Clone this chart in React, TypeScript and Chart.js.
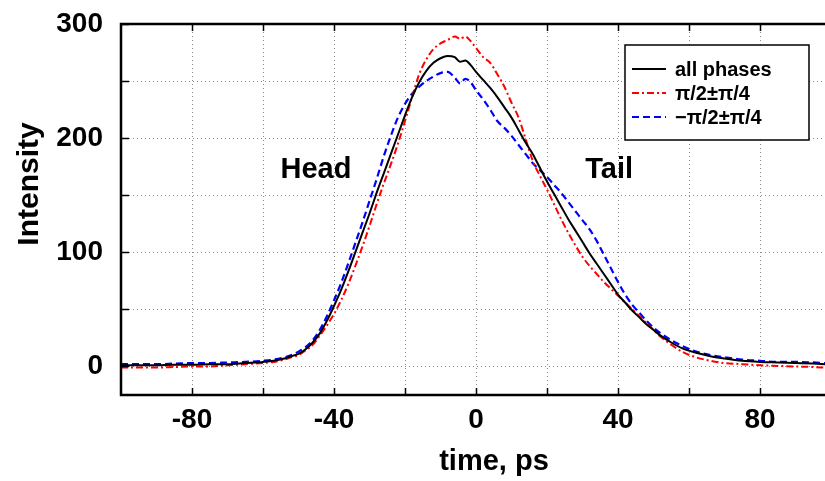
import React, { useEffect, useRef } from 'react';
import { Chart, registerables } from 'chart.js';

Chart.register(...registerables);

// time axis, ps
const TIME = [
  -100, -95, -90, -85, -80, -75, -70, -65, -60, -57, -54, -52, -50, -48, -46, -44, -42, -40,
  -38, -36, -34, -32, -30, -28, -26, -24, -22, -20, -18, -16, -14, -12, -10, -8, -6, -4.5,
  -3, -1.5, 0, 2, 4, 6, 8, 10, 12, 14, 16, 18, 20, 22, 24, 26, 28, 30, 32, 34, 36, 38, 40,
  42, 44, 46, 48, 50, 52, 55, 58, 62, 66, 70, 75, 80, 85, 90, 95, 98.3,
];

const ALL_PHASES = [
  1, 1, 1, 1.5, 1.5, 2, 2, 3, 4, 5, 7, 9, 11, 15, 21, 29, 40, 53,
  67, 83, 100, 117, 134, 152, 169, 186, 203, 220, 236, 249, 259, 266, 270, 272, 271, 267,
  268, 264, 258, 251, 244, 236, 227, 218, 207, 196, 186, 174, 162, 151, 140, 129, 119, 109, 99, 90, 81, 72, 63,
  56, 49, 43, 37, 32, 27, 21, 16, 12, 9, 7, 5, 4, 3.5, 3, 2.5, 2,
];

const PLUS_PI2 = [
  -1, -1, -1, -0.5, 0, 0, 1, 2, 3, 4, 6, 8, 10, 14, 19, 27, 36, 46,
  58, 72, 88, 105, 123, 142, 160, 177, 195, 215, 236, 256, 269, 278, 283, 286, 289, 287,
  289, 285, 279, 271, 266, 256, 245, 231, 218, 199, 180, 167, 155, 142, 129, 117, 106, 96, 88, 81, 74, 68, 62,
  56, 50, 44, 38, 32, 26, 19, 13, 8, 5, 3, 2, 1, 0.5, 0, -0.5, -1,
];

const MINUS_PI2 = [
  2, 2, 2, 2.5, 3, 3, 3.5, 4, 5, 6, 8, 10, 13, 17, 23, 32, 44, 58,
  73, 90, 108, 126, 145, 164, 184, 202, 218, 230, 239, 245, 250, 254, 257, 258, 253, 248,
  252, 249, 242, 234, 225, 215, 209, 202, 194, 186, 178, 172, 166, 159, 152, 144, 136, 128, 120, 110, 98, 86, 74,
  63, 54, 47, 40, 34, 29, 23, 18, 13, 10, 8, 6, 5, 4, 4, 3.5, 3,
];

const SERIES_LABELS = ['all phases', 'π/2±π/4', '−π/2±π/4'];

const X_GRID = [-80, -60, -40, -20, 0, 20, 40, 60, 80];
const X_TICK_LABELS = [-80, -40, 0, 40, 80];
const Y_GRID = [0, 50, 100, 150, 200, 250, 300];
const Y_TICK_LABELS = [0, 100, 200, 300];

const X_MIN = -100;
const X_MAX = 98.3;
const Y_MIN = -25;
const Y_MAX = 300;

const HEAD_LABEL = { text: 'Head', x: -45.1, y: 165 };
const TAIL_LABEL = { text: 'Tail', x: 37.5, y: 165 };

const FONT = '"Liberation Sans", Arial, Helvetica, sans-serif';

const toPoints = (ys: number[]) => TIME.map((t, i) => ({ x: t, y: ys[i] }));

const framePlugin = {
  id: 'framePlugin',
  afterDraw(chart: any) {
    const { ctx, chartArea: a, scales } = chart;
    const xs = scales.x;
    const ys = scales.y;
    ctx.save();

    // inner tick marks
    ctx.strokeStyle = '#000';
    ctx.lineWidth = 1.5;
    ctx.setLineDash([]);
    ctx.beginPath();
    X_GRID.forEach((v) => {
      const px = Math.round(xs.getPixelForValue(v)) + 0.5;
      ctx.moveTo(px, a.bottom);
      ctx.lineTo(px, a.bottom - 7);
      ctx.moveTo(px, a.top);
      ctx.lineTo(px, a.top + 7);
    });
    Y_GRID.forEach((v) => {
      const py = Math.round(ys.getPixelForValue(v)) + 0.5;
      ctx.moveTo(a.left, py);
      ctx.lineTo(a.left + 8, py);
    });
    ctx.stroke();

    // frame (top, left, bottom)
    ctx.lineWidth = 2.5;
    ctx.beginPath();
    ctx.moveTo(a.right + 2, a.top);
    ctx.lineTo(a.left, a.top);
    ctx.lineTo(a.left, a.bottom);
    ctx.lineTo(a.right + 2, a.bottom);
    ctx.stroke();

    // Head / Tail annotations
    ctx.fillStyle = '#000';
    ctx.font = `bold 29px ${FONT}`;
    ctx.textAlign = 'center';
    ctx.textBaseline = 'alphabetic';
    [HEAD_LABEL, TAIL_LABEL].forEach((l) => {
      ctx.fillText(l.text, xs.getPixelForValue(l.x), ys.getPixelForValue(l.y));
    });

    // axis titles
    ctx.font = `bold 29px ${FONT}`;
    ctx.fillText('time, ps', a.left + 373, a.bottom + 75);
    ctx.save();
    ctx.translate(a.left - 83, a.top + 160);
    ctx.rotate(-Math.PI / 2);
    ctx.font = `bold 30px ${FONT}`;
    ctx.fillText('Intensity', 0, 0);
    ctx.restore();

    // legend box
    const bx = a.right - 200;
    const by = a.top + 21;
    const bw = 184;
    const bh = 95;
    ctx.fillStyle = '#fff';
    ctx.fillRect(bx, by, bw, bh);
    ctx.strokeStyle = '#000';
    ctx.lineWidth = 1.5;
    ctx.strokeRect(bx, by, bw, bh);
    ctx.font = `bold 20px ${FONT}`;
    ctx.textAlign = 'left';
    ctx.textBaseline = 'alphabetic';
    chart.data.datasets.forEach((ds: any, i: number) => {
      const ry = by + 24 + i * 24;
      ctx.strokeStyle = ds.borderColor;
      ctx.lineWidth = ds.borderWidth;
      ctx.setLineDash(ds.borderDash || []);
      ctx.beginPath();
      ctx.moveTo(bx + 7, ry);
      ctx.lineTo(bx + 41, ry);
      ctx.stroke();
      ctx.setLineDash([]);
      ctx.fillStyle = '#000';
      ctx.fillText(ds.label, bx + 50, ry + 7);
    });

    ctx.restore();
  },
};

export default function App() {
  const ref = useRef<HTMLCanvasElement | null>(null);

  useEffect(() => {
    if (!ref.current) return;
    const chart = new Chart(ref.current, {
      type: 'line',
      data: {
        datasets: [
          {
            label: SERIES_LABELS[0],
            data: toPoints(ALL_PHASES),
            borderColor: '#000000',
            borderWidth: 2,
            borderDash: [],
            pointRadius: 0,
            cubicInterpolationMode: 'monotone',
          },
          {
            label: SERIES_LABELS[1],
            data: toPoints(PLUS_PI2),
            borderColor: '#ff0000',
            borderWidth: 2,
            borderDash: [7, 3, 2, 3],
            pointRadius: 0,
            cubicInterpolationMode: 'monotone',
          },
          {
            label: SERIES_LABELS[2],
            data: toPoints(MINUS_PI2),
            borderColor: '#0000ff',
            borderWidth: 2.2,
            borderDash: [7, 4],
            pointRadius: 0,
            cubicInterpolationMode: 'monotone',
          },
        ],
      } as any,
      options: {
        animation: false,
        responsive: false,
        devicePixelRatio: 1,
        layout: { padding: { top: 24, left: 0, right: 0, bottom: 0 } },
        plugins: {
          legend: { display: false },
          tooltip: { enabled: false },
          title: { display: false },
        },
        scales: {
          x: {
            type: 'linear',
            min: X_MIN,
            max: X_MAX,
            afterBuildTicks: (s: any) => {
              s.ticks = X_GRID.map((v) => ({ value: v }));
            },
            afterFit: (s: any) => {
              s.height = 86;
              s.paddingLeft = 0;
              s.paddingRight = 0;
            },
            grid: { color: '#8c8c8c', lineWidth: 1, drawTicks: false },
            border: { display: false, dash: [1, 3] },
            ticks: {
              padding: 8,
              color: '#000',
              font: { family: FONT, size: 28, weight: 'bold' },
              maxRotation: 0,
              autoSkip: false,
              callback: (v: any) => (X_TICK_LABELS.includes(Number(v)) ? String(v) : ''),
            },
          },
          y: {
            type: 'linear',
            min: Y_MIN,
            max: Y_MAX,
            afterBuildTicks: (s: any) => {
              s.ticks = Y_GRID.map((v) => ({ value: v }));
            },
            afterFit: (s: any) => {
              s.width = 121;
              s.paddingTop = 0;
              s.paddingBottom = 0;
            },
            grid: { color: '#8c8c8c', lineWidth: 1, drawTicks: false },
            border: { display: false, dash: [1, 3] },
            ticks: {
              padding: 18,
              color: '#000',
              font: { family: FONT, size: 28, weight: 'bold' },
              autoSkip: false,
              callback: (v: any) => (Y_TICK_LABELS.includes(Number(v)) ? String(v) : ''),
            },
          },
        },
      } as any,
      plugins: [framePlugin],
    });
    return () => chart.destroy();
  }, []);

  return (
    <div style={{ position: 'fixed', left: 0, top: 0, width: 825, height: 481, background: '#fff' }}>
      <canvas ref={ref} width={825} height={481} style={{ width: 825, height: 481, display: 'block' }} />
    </div>
  );
}
